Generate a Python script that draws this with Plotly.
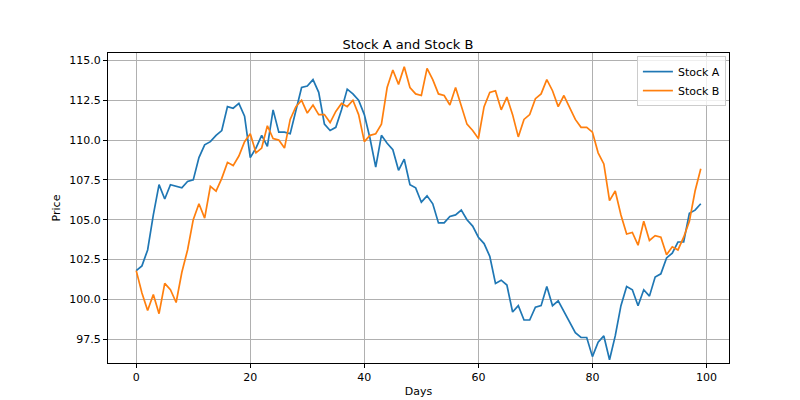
import plotly.graph_objects as go

days = list(range(100))
stock_a = [101.8,102.1,103.1,105.3,107.2,106.3,107.2,107.1,107.0,107.4,107.5,108.9,109.7,109.9,110.3,110.6,112.1,112.0,112.3,111.5,
108.9,109.5,110.3,109.6,111.9,110.5,110.5,110.4,111.9,113.3,113.4,113.8,113.0,111.0,110.6,110.8,111.9,113.2,112.9,112.5,
111.6,110.1,108.3,110.3,109.8,109.4,108.1,108.8,107.2,107.0,106.1,106.5,106.0,104.8,104.8,105.2,105.3,105.6,105.0,104.6,
103.9,103.5,102.7,101.0,101.2,100.9,99.2,99.6,98.7,98.7,99.5,99.6,100.8,99.6,99.9,99.2,98.5,97.9,97.6,97.6,
96.4,97.3,97.7,96.2,97.7,99.6,100.8,100.6,99.6,100.6,100.2,101.4,101.6,102.6,102.9,103.6,103.6,105.4,105.6,106.0]
stock_b = [101.8,100.4,99.3,100.3,99.1,101.0,100.6,99.8,101.7,103.1,105.0,106.0,105.1,107.1,106.8,107.6,108.6,108.4,109.0,109.9,
110.4,109.2,109.5,110.9,110.1,110.0,109.5,111.3,112.1,112.5,111.7,112.2,111.6,111.6,111.1,111.8,112.3,112.1,112.5,111.6,
109.9,110.3,110.4,111.0,113.3,114.4,113.5,114.6,113.3,112.9,112.8,114.5,113.8,112.9,112.8,112.2,113.3,112.2,111.0,110.6,
110.1,112.1,113.0,113.1,111.9,112.7,111.6,110.2,111.3,111.6,112.6,112.9,113.8,113.1,112.1,112.8,112.0,111.3,110.8,110.8,
110.5,109.2,108.5,106.2,106.8,105.3,104.1,104.2,103.4,104.9,103.7,104.0,103.9,102.8,103.3,103.1,103.9,104.9,106.8,108.2]

fig = go.Figure()
fig.add_trace(go.Scatter(x=days, y=stock_a, mode="lines", name="Stock A", line=dict(color="#1f77b4", width=1.7)))
fig.add_trace(go.Scatter(x=days, y=stock_b, mode="lines", name="Stock B", line=dict(color="#ff7f0e", width=1.7)))

ax = dict(showgrid=True, gridcolor="#b0b0b0", gridwidth=0.8, showline=True, linecolor="black", mirror=True,
          ticks="outside", ticklen=4, tickcolor="black", zeroline=False, tickfont=dict(size=11, color="black"),
          automargin=False)
fig.update_layout(
    width=800, height=400, paper_bgcolor="white", plot_bgcolor="white",
    margin=dict(l=100, r=79, t=45, b=45),
    font=dict(family="DejaVu Sans", size=11, color="black"),
    title=dict(text="Stock A and Stock B", x=0.5, xanchor="center", y=0.91, yanchor="middle", font=dict(size=13)),
    xaxis=dict(ax, range=[-4.95, 103.95], tickvals=[0,20,40,60,80,100],
               title=dict(text="Days", standoff=4, font=dict(size=11))),
    yaxis=dict(ax, range=[96.0, 115.47], tickvals=[97.5,100,102.5,105,107.5,110,112.5,115], tickformat=".1f",
               title=dict(text="Price", standoff=6, font=dict(size=11))),
    legend=dict(x=0.995, y=0.99, xanchor="right", yanchor="top", bordercolor="#cccccc", borderwidth=1,
                bgcolor="rgba(255,255,255,0.8)", font=dict(size=11), tracegroupgap=0),
)
fig.write_html("out.html")
